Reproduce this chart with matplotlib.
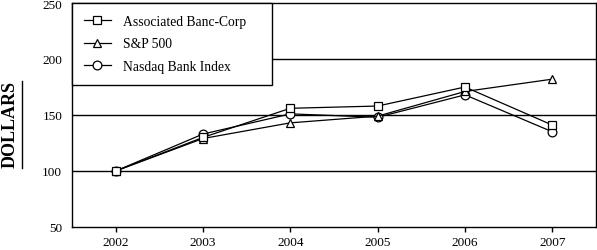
import matplotlib.pyplot as plt
from matplotlib.lines import Line2D

years = [2002, 2003, 2004, 2005, 2006, 2007]
associated = [100, 130, 156, 158, 175, 141]
sp500 = [100, 129, 143, 149, 171, 182]
nasdaq_bank = [100, 133, 151, 148, 168, 135]
y_ticks = [50, 100, 150, 200, 250]
grid_levels = [100, 150, 200]

plt.rcParams['font.family'] = ['Liberation Serif', 'DejaVu Serif']

fig = plt.figure(figsize=(5.97, 2.51), dpi=100)
ax = fig.add_axes([72 / 597, 1 - 228 / 251, 524 / 597, 224 / 251])

for g in grid_levels:
    ax.axhline(g, color='black', lw=1.0, zorder=1)

mk = dict(color='black', lw=0.9, markersize=6.3, markerfacecolor='white',
          markeredgecolor='black', markeredgewidth=0.9)
h3, = ax.plot(years, nasdaq_bank, marker='o', label='Nasdaq Bank Index', zorder=3, **mk)
h2, = ax.plot(years, sp500, marker='^', label='S&P 500', zorder=4, **mk)
h1, = ax.plot(years, associated, marker='s', label='Associated Banc-Corp', zorder=5, **mk)

ax.set_xlim(2001.5, 2007.5)
ax.set_ylim(50, 250)
ax.set_xticks(years)
ax.set_yticks(y_ticks)
ax.tick_params(axis='x', direction='out', length=3.5, width=1, labelsize=9.5, pad=3)
ax.tick_params(axis='y', length=0, labelsize=9.5, pad=7)
for s in ax.spines.values():
    s.set_linewidth(1.0)

# legend box spans the left part of the plot, from the top down to about 180
leg = ax.legend(handles=[h1, h2, h3], loc='upper left',
                bbox_to_anchor=(0, 1 - 80 / 224, 200 / 524, 80 / 224), mode='expand',
                borderaxespad=0, fontsize=9.8, fancybox=False, framealpha=1,
                edgecolor='black', handlelength=2.0, handletextpad=0.88,
                labelspacing=0.72, borderpad=0.85)
leg.get_frame().set_linewidth(1.0)
leg.set_zorder(10)

fig.text(10 / 597, 1 - 125 / 251, 'DOLLARS', rotation=90, fontsize=13,
         fontweight='bold', ha='center', va='center')
fig.add_artist(Line2D([22 / 597, 22 / 597], [1 - 169 / 251, 1 - 82 / 251],
                      color='black', lw=1.0, transform=fig.transFigure))

fig.savefig('out.png', dpi=100)
